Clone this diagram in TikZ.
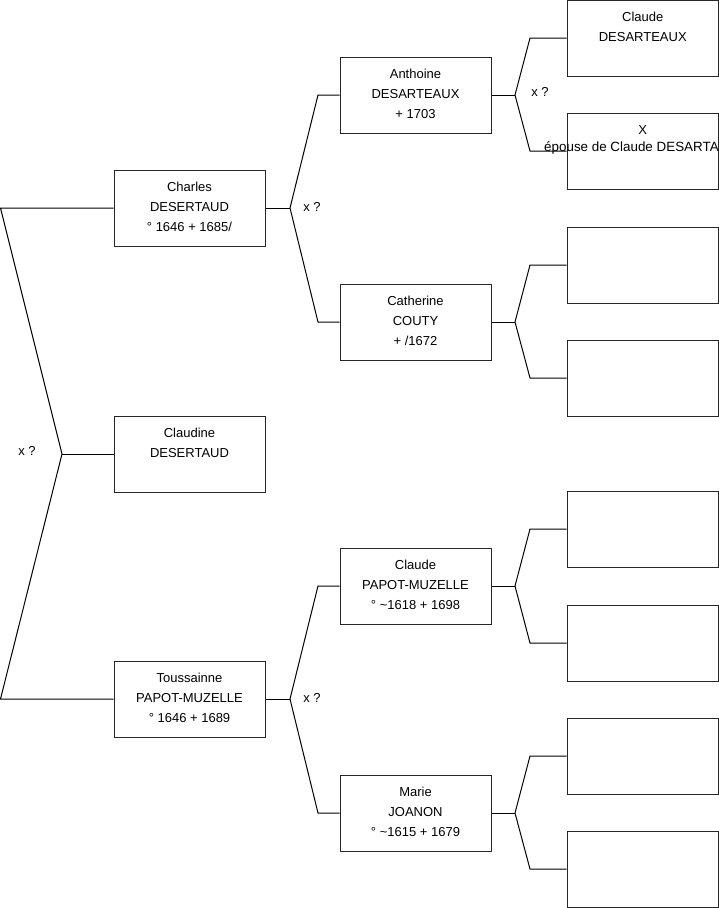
\documentclass[tikz,border=0pt]{standalone}
\usepackage{fontspec}
\setmainfont{Liberation Sans}
\begin{document}
\begin{tikzpicture}[x=1pt,y=-1pt,
  box/.style={draw=black!85,line width=1pt,minimum width=151pt,minimum height=76pt,inner sep=0pt,
    align=center,font=\fontsize{13}{20}\selectfont},
  rbox/.style={box,minimum width=151.5pt},
  txt/.style={align=center,font=\fontsize{13}{20}\selectfont,inner sep=0pt},
  conn/.style={draw=black,line width=1pt},
  lbl/.style={font=\fontsize{13}{16}\selectfont,inner sep=0pt}]
\useasboundingbox (0,0) rectangle (719,908);
% generation 1
\node[box] (charles) at (189.5,208) {};
\node[txt] (charlest) at (189.5,207) {Charles\\DESERTAUD\\° 1646 + 1685/};
\node[box] (claudine) at (189.5,454) {};
\node[txt] (claudinet) at (189.5,453) {Claudine\\DESERTAUD\\\mbox{}};
\node[box] (toussainne) at (189.5,699) {};
\node[txt] (toussainnet) at (189.5,698) {Toussainne\\PAPOT-MUZELLE\\° 1646 + 1689};
% generation 2
\node[box] (anthoine) at (415.5,95) {};
\node[txt] (anthoinet) at (415.5,94) {Anthoine\\DESARTEAUX\\+ 1703};
\node[box] (catherine) at (415.5,322) {};
\node[txt] (catherinet) at (415.5,321) {Catherine\\COUTY\\+ /1672};
\node[box] (claudep) at (415.5,586) {};
\node[txt] (claudept) at (415.5,585) {Claude\\PAPOT-MUZELLE\\° \textasciitilde1618 + 1698};
\node[box] (marie) at (415.5,813) {};
\node[txt] (mariet) at (415.5,812) {Marie\\JOANON\\° \textasciitilde1615 + 1679};
% generation 3
\node[rbox] (r1) at (642.75,38) {};
\node[txt] (r1t) at (642.75,37) {Claude\\DESARTEAUX\\\mbox{}};
\node[rbox] (r2) at (642.75,151) {};
\node[txt] (r2t) at (642.75,150) {X\\\mbox{}\\\mbox{}};
\node[lbl,anchor=west,font=\fontsize{13.4}{16}\selectfont] (r2b) at (544,148) {épouse de Claude DESARTA};
\node[rbox] (r3) at (642.75,265) {};
\node[rbox] (r4) at (642.75,378) {};
\node[rbox] (r5) at (642.75,529) {};
\node[rbox] (r6) at (642.75,643) {};
\node[rbox] (r7) at (642.75,756) {};
\node[rbox] (r8) at (642.75,869) {};
% connectors level 1
\coordinate (j0) at (62,454);
\coordinate (a0) at (0.5,208);
\coordinate (b0) at (0.5,699);
\draw[conn] (charles.west) -- (a0) -- (j0) -- (b0) -- (toussainne.west);
\draw[conn] (j0) -- (claudine.west);
\node[lbl] (x0) at (27,451) {x ?};
% level 2
\coordinate (j1) at (290,208);
\coordinate (a1) at (318,95);
\coordinate (b1) at (318,322);
\draw[conn] (charles.east) -- (j1);
\draw[conn] (anthoine.west) -- (a1) -- (j1) -- (b1) -- (catherine.west);
\node[lbl] (x1) at (312,207) {x ?};
\coordinate (j2) at (290,699);
\coordinate (a2) at (318,586);
\coordinate (b2) at (318,813);
\draw[conn] (toussainne.east) -- (j2);
\draw[conn] (claudep.west) -- (a2) -- (j2) -- (b2) -- (marie.west);
\node[lbl] (x2) at (312,698) {x ?};
% level 3
\coordinate (j3) at (515,95);
\coordinate (a3) at (530,38);
\coordinate (b3) at (530,151);
\draw[conn] (anthoine.east) -- (j3);
\draw[conn] (r1.west) -- (a3) -- (j3) -- (b3) -- (r2.west);
\node[lbl] (x3) at (540,92) {x ?};
\coordinate (j4) at (515,322);
\coordinate (a4) at (530,265);
\coordinate (b4) at (530,378);
\draw[conn] (catherine.east) -- (j4);
\draw[conn] (r3.west) -- (a4) -- (j4) -- (b4) -- (r4.west);
\coordinate (j5) at (515,586);
\coordinate (a5) at (530,529);
\coordinate (b5) at (530,643);
\draw[conn] (claudep.east) -- (j5);
\draw[conn] (r5.west) -- (a5) -- (j5) -- (b5) -- (r6.west);
\coordinate (j6) at (515,813);
\coordinate (a6) at (530,756);
\coordinate (b6) at (530,869);
\draw[conn] (marie.east) -- (j6);
\draw[conn] (r7.west) -- (a6) -- (j6) -- (b6) -- (r8.west);
\end{tikzpicture}
\end{document}
